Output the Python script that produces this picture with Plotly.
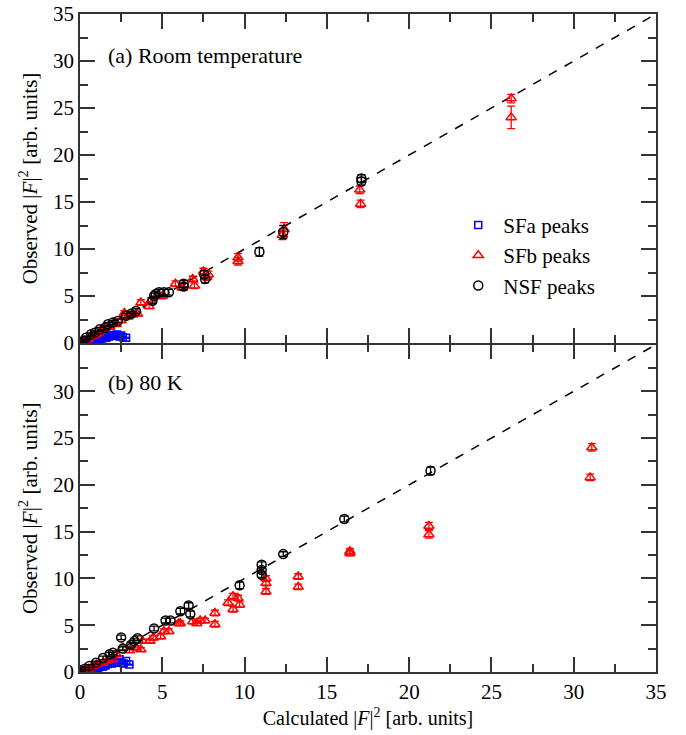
import plotly.graph_objects as go

# ---------------- data: panel (a) Room temperature ----------------
a_sfa_x = [0.05, 0.15, 0.25, 0.35, 0.5, 0.6, 0.75, 0.9, 1.0, 1.1, 1.25, 1.4, 1.5, 1.6, 1.75, 1.9, 2.0, 2.1, 2.25, 2.4, 2.5, 2.6, 2.8]
a_sfa_y = [0.02, 0.05, 0.1, 0.12, 0.18, 0.2, 0.25, 0.3, 0.35, 0.4, 0.45, 0.5, 0.6, 0.55, 0.7, 0.75, 0.85, 0.8, 0.9, 0.7, 0.8, 0.6, 0.55]
a_sfa_e = [0.05] * len(a_sfa_x)

a_sfb_x = [0.1, 0.3, 0.5, 0.7, 0.9, 1.1, 1.3, 1.5, 1.8, 2.0, 2.2, 2.5, 2.7, 2.9, 3.2, 3.5, 3.7, 4.2, 4.3, 5.0, 5.8, 6.2, 6.85, 6.95, 7.5, 7.7, 7.8, 9.6, 9.6, 12.4, 12.3, 17.0, 17.05, 26.2, 26.2]
a_sfb_y = [0.1, 0.25, 0.45, 0.7, 0.85, 1.0, 1.3, 1.5, 1.7, 2.1, 2.0, 2.4, 3.2, 2.8, 3.0, 3.1, 4.3, 3.9, 4.5, 5.0, 6.3, 5.9, 6.8, 6.1, 7.6, 7.0, 7.3, 9.1, 8.7, 12.1, 11.5, 16.3, 14.8, 26.0, 24.0]
a_sfb_e = [0.1, 0.1, 0.1, 0.15, 0.15, 0.15, 0.2, 0.2, 0.2, 0.2, 0.2, 0.2, 0.25, 0.2, 0.2, 0.2, 0.3, 0.25, 0.3, 0.3, 0.3, 0.3, 0.3, 0.3, 0.35, 0.35, 0.35, 0.4, 0.4, 0.7, 0.5, 0.4, 0.4, 0.45, 1.2]

a_nsf_x = [0.05, 0.2, 0.36, 0.67, 0.9, 1.2, 1.5, 1.7, 2.0, 2.3, 2.8, 3.1, 3.4, 4.4, 4.5, 4.6, 4.8, 5.1, 5.4, 6.3, 6.3, 7.55, 7.6, 10.9, 12.35, 17.1, 17.1]
a_nsf_y = [0.05, 0.2, 0.57, 0.93, 1.1, 1.46, 1.6, 2.0, 2.17, 2.35, 2.9, 3.1, 3.4, 4.5, 5.0, 5.2, 5.4, 5.4, 5.4, 6.3, 6.0, 7.3, 6.8, 9.7, 11.8, 17.5, 17.2]
a_nsf_e = [0.1, 0.1, 0.15, 0.15, 0.15, 0.2, 0.2, 0.2, 0.2, 0.2, 0.25, 0.25, 0.25, 0.3, 0.3, 0.3, 0.3, 0.3, 0.3, 0.35, 0.35, 0.4, 0.4, 0.45, 0.7, 0.4, 0.4]

# ---------------- data: panel (b) 80 K ----------------
b_sfa_x = [0.05, 0.15, 0.25, 0.4, 0.5, 0.65, 0.8, 0.95, 1.1, 1.25, 1.4, 1.55, 1.7, 1.8, 1.95, 2.1, 2.25, 2.4, 2.5, 2.65, 2.8, 3.0]
b_sfa_y = [0.02, 0.06, 0.1, 0.15, 0.2, 0.25, 0.3, 0.4, 0.45, 0.55, 0.6, 0.7, 0.85, 1.17, 0.9, 1.0, 1.1, 1.35, 1.0, 0.9, 1.17, 0.8]
b_sfa_e = [0.05] * len(b_sfa_x)

b_sfb_x = [0.1, 0.3, 0.5, 0.77, 1.0, 1.4, 1.7, 2.0, 2.2, 2.6, 3.0, 3.4, 3.7, 3.8, 4.25, 4.45, 4.9, 5.1, 5.4, 6.0, 6.1, 6.85, 7.1, 7.3, 7.6, 8.2, 8.2, 9.0, 9.3, 9.3, 9.6, 9.7, 11.3, 11.3, 11.3, 13.26, 13.26, 16.4, 16.4, 21.2, 21.2, 31.1, 31.0]
b_sfb_y = [0.05, 0.2, 0.35, 0.64, 0.8, 1.0, 1.2, 1.35, 1.9, 2.6, 2.3, 2.6, 2.4, 3.3, 3.3, 3.65, 3.8, 4.36, 4.36, 5.2, 5.2, 5.4, 5.2, 5.5, 5.5, 6.3, 5.1, 7.4, 8.1, 6.7, 7.9, 7.2, 10.0, 9.5, 8.6, 10.2, 9.1, 12.9, 12.7, 15.6, 14.7, 24.0, 20.8]
b_sfb_e = [0.1, 0.1, 0.1, 0.15, 0.15, 0.15, 0.2, 0.2, 0.2, 0.2, 0.2, 0.2, 0.2, 0.2, 0.2, 0.25, 0.25, 0.25, 0.25, 0.25, 0.25, 0.25, 0.25, 0.25, 0.25, 0.3, 0.3, 0.3, 0.3, 0.3, 0.3, 0.3, 0.3, 0.3, 0.3, 0.3, 0.3, 0.3, 0.3, 0.4, 0.4, 0.4, 0.35]

b_nsf_x = [0.06, 0.3, 0.57, 0.97, 1.4, 1.8, 2.0, 2.5, 2.6, 3.1, 3.3, 3.5, 4.5, 5.2, 5.5, 6.1, 6.6, 6.7, 9.7, 11.04, 11.04, 11.04, 12.35, 16.06, 21.3]
b_nsf_y = [0.18, 0.35, 0.64, 1.0, 1.5, 1.9, 2.05, 3.7, 2.5, 2.9, 3.3, 3.6, 4.65, 5.5, 5.5, 6.5, 7.1, 6.2, 9.26, 11.46, 10.9, 10.4, 12.6, 16.35, 21.5]
b_nsf_e = [0.1, 0.1, 0.15, 0.15, 0.2, 0.2, 0.2, 0.25, 0.2, 0.25, 0.25, 0.25, 0.25, 0.25, 0.25, 0.3, 0.3, 0.3, 0.35, 0.3, 0.3, 0.3, 0.25, 0.3, 0.4]

diag = [0, 35]

FONT = "Liberation Serif, Times New Roman, Times, serif"
BLUE = "#0000ff"
RED = "#ff0000"
BLACK = "#000000"
AX = "#333333"

fig = go.Figure()

def add_series(x, y, e, name, color, symbol, size, xa, ya, show):
    fig.add_trace(go.Scatter(
        x=x, y=y, mode="markers", name=name, showlegend=show,
        marker=dict(symbol=symbol, size=size, color=color, line=dict(color=color, width=1.5)),
        error_y=dict(type="data", array=e, visible=True, color=color, thickness=1.3, width=4),
        xaxis=xa, yaxis=ya,
    ))

for (xa, ya, show, sets) in [
    ("x", "y", True, [(a_sfa_x, a_sfa_y, a_sfa_e), (a_sfb_x, a_sfb_y, a_sfb_e), (a_nsf_x, a_nsf_y, a_nsf_e)]),
    ("x2", "y2", False, [(b_sfa_x, b_sfa_y, b_sfa_e), (b_sfb_x, b_sfb_y, b_sfb_e), (b_nsf_x, b_nsf_y, b_nsf_e)]),
]:
    fig.add_trace(go.Scatter(x=diag, y=diag, mode="lines", showlegend=False,
                             line=dict(color=BLACK, width=1.5, dash="dash"),
                             xaxis=xa, yaxis=ya, hoverinfo="skip"))
    add_series(*sets[0], "SFa peaks", BLUE, "square-open", 7, xa, ya, show)
    add_series(*sets[1], "SFb peaks", RED, "triangle-up-open", 9, xa, ya, show)
    add_series(*sets[2], "NSF peaks", BLACK, "circle-open", 9, xa, ya, show)

minor_lin = dict(tickmode="linear", tick0=0, dtick=2.5, ticklen=8, tickwidth=1.5, tickcolor=AX, ticks="inside")

axis_common = dict(
    range=[0, 35], showline=True, linecolor=AX, linewidth=1.5, mirror="ticks",
    ticks="inside", ticklen=15, tickwidth=1.5, tickcolor=AX,
    showgrid=False, zeroline=False, automargin=False, ticklabeloverflow="allow",
    tickfont=dict(family=FONT, size=21, color=BLACK),
)

ylab = "Observed |<i>F</i>|<sup>2</sup> [arb. units]"
xlab = "Calculated |<i>F</i>|<sup>2</sup> [arb. units]"

fig.update_layout(
    width=686, height=735,
    margin=dict(l=80, r=30, t=14, b=63),
    paper_bgcolor="white", plot_bgcolor="white",
    font=dict(family=FONT, size=20, color=BLACK),
    xaxis=dict(**axis_common, domain=[0, 1], anchor="y", showticklabels=False,
               tickmode="linear", tick0=0, dtick=5, minor=minor_lin),
    yaxis=dict(**axis_common, domain=[0.5, 1], anchor="x",
               tickmode="linear", tick0=0, dtick=5, minor=minor_lin,
               title=dict(text=ylab, font=dict(family=FONT, size=21), standoff=10)),
    xaxis2=dict(**axis_common, domain=[0, 1], anchor="y2",
                tickmode="linear", tick0=0, dtick=5, minor=minor_lin,
                title=dict(text=xlab, font=dict(family=FONT, size=20), standoff=8)),
    yaxis2=dict(**axis_common, domain=[0, 0.4977], anchor="x2",
                tickmode="array", tickvals=[0, 5, 10, 15, 20, 25, 30],
                minor=dict(tickmode="array", tickvals=[2.5, 7.5, 12.5, 17.5, 22.5, 27.5, 32.5],
                           ticklen=8, tickwidth=1.5, tickcolor=AX, ticks="inside"),
                title=dict(text=ylab, font=dict(family=FONT, size=21), standoff=10)),
    legend=dict(x=0.648, y=0.71, xanchor="left", yanchor="top",
                bgcolor="rgba(0,0,0,0)", font=dict(family=FONT, size=21),
                itemwidth=40, tracegroupgap=0),
    annotations=[
        dict(text="(a) Room temperature", xref="paper", yref="paper", x=0.045, y=0.937,
             xanchor="left", yanchor="middle", showarrow=False, font=dict(family=FONT, size=22)),
        dict(text="(b) 80 K", xref="paper", yref="paper", x=0.045, y=0.44,
             xanchor="left", yanchor="middle", showarrow=False, font=dict(family=FONT, size=22)),
    ],
)

# remove the browser's default page margin so the figure fills the window exactly
fig.write_html("out.html", config={"displayModeBar": False},
               post_script="document.body.style.margin='0px';")
